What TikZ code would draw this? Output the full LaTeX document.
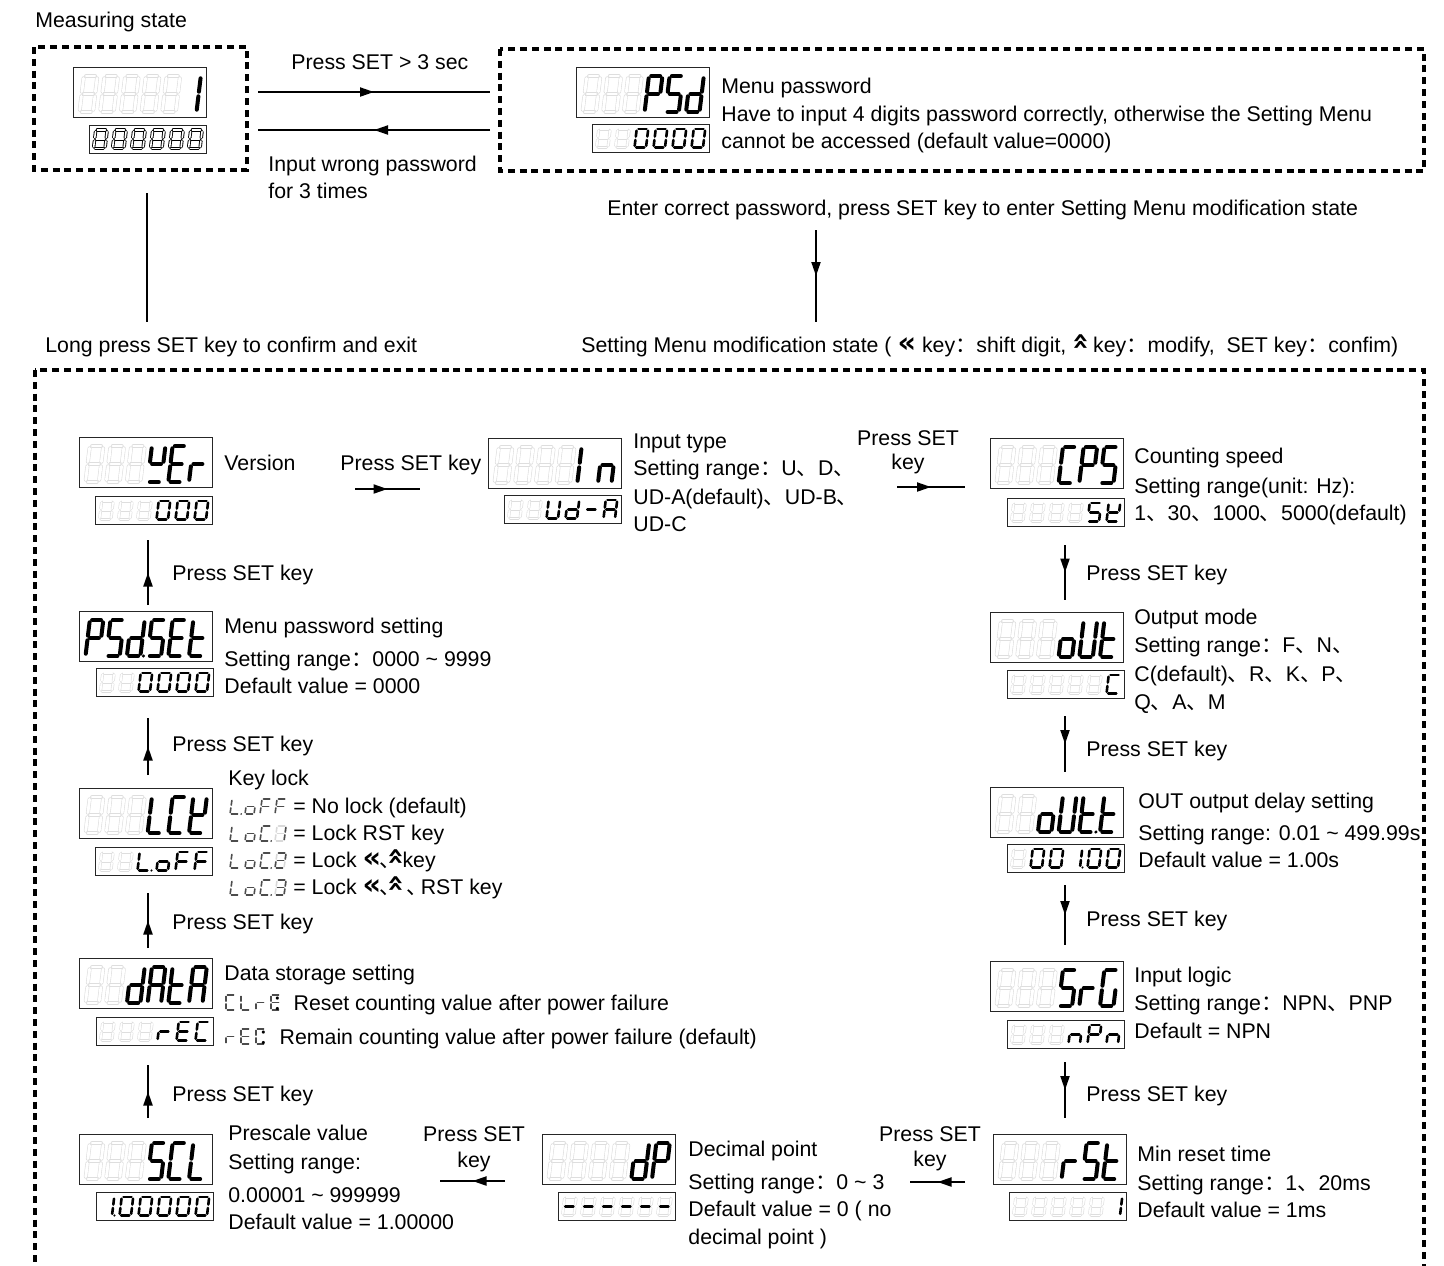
\documentclass[tikz,border=0pt]{standalone}
\usepackage{fontspec}
\usepackage{graphicx}
\setmainfont{Liberation Sans}
\newfontfamily\cjk{Noto Sans CJK SC}
\newfontfamily\dejavu{DejaVu Sans}
\usetikzlibrary{arrows.meta,decorations.markings}

\newcommand\dn{{\cjk 、}}
\newcommand\dns{{\cjk\kern-0.1em 、\kern-0.6em}}
\newcommand\fc{{\cjk ：}}
\newcommand\kl{\scalebox{1.35}{\dejavu\bfseries «}}
\newcommand\ku{\raisebox{0.12em}{\rotatebox[origin=c]{-90}{\scalebox{1.35}{\dejavu\bfseries «}}}}

% seven segment pieces
\newcommand\skA[1]{\draw[#1] (\dG,\dH)--(\dW-\dG,\dH);}
\newcommand\skB[1]{\draw[#1] (\dW,\dH-\dG)--(\dW,\dH/2+\dG);}
\newcommand\skC[1]{\draw[#1] (\dW,\dH/2-\dG)--(\dW,\dG);}
\newcommand\skD[1]{\draw[#1] (\dG,0)--(\dW-\dG,0);}
\newcommand\skE[1]{\draw[#1] (0,\dH/2-\dG)--(0,\dG);}
\newcommand\skF[1]{\draw[#1] (0,\dH-\dG)--(0,\dH/2+\dG);}
\newcommand\skG[1]{\draw[#1] (\dG,\dH/2)--(\dW-\dG,\dH/2);}
\newcommand\skP[1]{\fill[#1] (\dW+\dG+0.8,0) circle[radius=\dR];}
\newcommand\seg[1]{%
  \if#1G\skA{gho}\skB{gho}\skC{gho}\skD{gho}\skE{gho}\skF{gho}\skG{gho}\fi
  \if#1a\skA{act}\fi
  \if#1b\skB{act}\fi
  \if#1c\skC{act}\fi
  \if#1d\skD{act}\fi
  \if#1e\skE{act}\fi
  \if#1f\skF{act}\fi
  \if#1g\skG{act}\fi
  \if#1p\skP{actdot}\fi}

% characters
\def\sgX{G}
\def\sgO{a,b,c,d,e,f}
\def\sgI{b,c}
\def\sgIp{b,c,p}
\def\sgGI{G,b,c}
\def\sgGII{G,a,b,g,e,d}
\def\sgGIII{G,a,b,g,c,d}
\def\sgH{a,b,c,d,e,f,g}
\def\sgP{a,b,f,g,e}
\def\sgS{a,f,g,c,d}
\def\sgd{b,c,d,e,g}
\def\sgdp{b,c,d,e,g,p}
\def\sgE{a,f,g,e,d}
\def\sgr{e,g}
\def\sgC{a,f,e,d}
\def\sgCp{a,f,e,d,p}
\def\sgn{e,g,c}
\def\sgo{c,d,e,g}
\def\sgU{b,c,d,e,f}
\def\sgt{f,g,e,d}
\def\sgtp{f,g,e,d,p}
\def\sgL{f,e,d}
\def\sgLp{f,e,d,p}
\def\sgA{a,b,c,e,f,g}
\def\sgF{a,f,g,e}
\def\sgm{g}
\def\sgGm{G,g}
\def\sgk{b,d,e,f,g}
\def\sgV{f,b,g,d}
\def\sgGG{a,f,e,d,c}
\def\sgi{e,g}
\def\sgIn{e,f}

\newcommand\dispcore[3]{%
  \foreach \dchar [count=\di] in {#3}{%
    \edef\dcc{\dchar}%
    \begin{scope}[shift={({#1+(\di-1)*\dPitch},{#2})},yscale=-1,xslant=-\dSl]
      \foreach \segc in \dcc {\seg{\segc}}
    \end{scope}}}

\newcommand\bigd[4]{%
  \node[bigbox,anchor=north west] (#1) at (#2,#3) {};
  \begin{scope}[act/.style={bigact},gho/.style={bigghost},actdot/.style={fill=black}]
    \def\dW{13.5}\def\dH{36}\def\dG{2.3}\def\dR{1.7}\def\dPitch{20.7}\def\dSl{0.12}%
    \dispcore{#2+6.5}{#3+45}{#4}
  \end{scope}}

\newcommand\smalld[5][smallact]{%
  \node[smallbox,anchor=north west] (#2) at (#3,#4) {};
  \begin{scope}[act/.style={#1},gho/.style={smallghost},actdot/.style={fill=black}]
    \def\dW{11.5}\def\dH{18.5}\def\dG{1.7}\def\dR{1.2}\def\dPitch{19}\def\dSl{0.12}%
    \dispcore{#3+4.5}{#4+23.5}{#5}
  \end{scope}}

\newcommand\icond[4][0.14]{%
  \begin{scope}[act/.style={iconact},gho/.style={iconghost},actdot/.style={fill=black!70}]
    \def\dW{9}\def\dH{15}\def\dG{1.4}\def\dR{1}\def\dPitch{15}\def\dSl{#1}%
    \dispcore{#2}{#3}{#4}
  \end{scope}}

\tikzset{
  txt/.style={anchor=base west,inner sep=0pt},
  txtc/.style={anchor=base,inner sep=0pt},
  bigbox/.style={draw=black!85,line width=0.6pt,minimum width=66.5pt,minimum height=25pt,inner sep=0pt},
  smallbox/.style={draw=black!85,line width=0.6pt,minimum width=58.5pt,minimum height=14pt,inner sep=0pt},
  bigact/.style={draw=black,line width=2pt,line cap=round},
  bigghost/.style={draw=black!13,line width=0.3pt,double=white,double distance=1.4pt,line cap=round},
  smallact/.style={draw=black,line width=1.3pt,line cap=round},
  measact/.style={draw=black,line width=0.45pt,double=white,double distance=0.8pt,line cap=round},
  smallghost/.style={draw=black!13,line width=0.3pt,double=white,double distance=0.9pt,line cap=round},
  iconact/.style={draw=black!70,line width=0.8pt,line cap=round},
  iconghost/.style={draw=black!15,line width=0.8pt,line cap=round},
  dframe/.style={line width=2pt,dash pattern=on 3.5pt off 2.4pt},
  conn/.style={line width=1pt},
  arr/.style={line width=1pt,postaction={decorate},
    decoration={markings,mark=at position 0.5 with {\arrow{Triangle[length=7pt,width=4.5pt]}}}},
}

\begin{document}
\begin{tikzpicture}[x=0.5pt,y=-0.5pt,font=\fontsize{10.65pt}{12.8pt}\selectfont]
\useasboundingbox (0,0) rectangle (1444,1265);
\clip (0,0) rectangle (1444,1265);

% ---------- top part ----------
\node[txt] (tms) at (35,27) {Measuring state};
\draw[dframe] (34,47) rectangle (247,170);
\bigd{m1}{73}{67}{\sgX,\sgX,\sgX,\sgX,\sgX,\sgI}
\smalld[measact]{m2}{89}{125}{\sgH,\sgH,\sgH,\sgH,\sgH,\sgH}

\coordinate (a1s) at (258,92); \coordinate (a1e) at (490,92);
\draw[arr] (a1s) -- (a1e);
\coordinate (a2s) at (490,130); \coordinate (a2e) at (258,130);
\draw[arr] (a2s) -- (a2e);
\node[txt] (tp3) at (291,69) {Press SET > 3 sec};
\node[txt] (tw1) at (268,171) {Input wrong password};
\node[txt] (tw2) at (268,198) {for 3 times};

\draw[dframe] (500,49) rectangle (1424,171);
\bigd{pw1}{576}{67}{\sgX,\sgX,\sgX,\sgP,\sgS,\sgd}
\smalld{pw2}{592}{124}{\sgX,\sgX,\sgO,\sgO,\sgO,\sgO}
\node[txt] (tmp1) at (721,93) {Menu password};
\node[txt] (tmp2) at (721,121) {Have to input 4 digits password correctly, otherwise the Setting Menu};
\node[txt] (tmp3) at (721,148) {cannot be accessed (default value=0000)};

\coordinate (l1s) at (147,193); \coordinate (l1e) at (147,322);
\draw[conn] (l1s) -- (l1e);
\node[txt] (tex) at (45,352) {Long press SET key to confirm and exit};

\node[txt] (tec) at (607,215) {Enter correct password, press SET key to enter Setting Menu modification state};
\coordinate (d1s) at (816,230); \coordinate (d1e) at (816,322);
\draw[arr] (d1s) -- (d1e);
\node[txt] (tsm) at (581,352) {Setting Menu modification state (\ \kl\ key\fc shift digit,\ \ku\ key\fc modify,\ \ SET key\fc confim)};

% ---------- main frame ----------
\draw[dframe] (35,370) rectangle (1424,1300);

% Version
\bigd{ver1}{79}{437}{\sgX,\sgX,\sgX,\sgV,\sgE,\sgr}
\smalld{ver2}{95}{496}{\sgX,\sgX,\sgX,\sgO,\sgO,\sgO}
\node[txt] (tver) at (224,470) {Version};

\node[txt] (tvi) at (340,470) {Press SET key};
\coordinate (h1s) at (355,489); \coordinate (h1e) at (420,489);
\draw[arr] (h1s) -- (h1e);

% Input type
\bigd{in1}{488}{438}{\sgX,\sgX,\sgX,\sgX,\sgIn,\sgn}
\smalld{in2}{504}{495}{\sgX,\sgX,\sgU,\sgd,\sgm,\sgA}
\node[txt] (tin1) at (633,448) {Input type};
\node[txt] (tin2) at (633,475) {Setting range\fc U\dn D\dn};
\node[txt] (tin3) at (633,504) {UD-A(default)\dn UD-B\dn};
\node[txt] (tin4) at (633,531) {UD-C};

\node[txtc] (tic1) at (908,445) {Press SET};
\node[txtc] (tic2) at (908,469) {key};
\coordinate (h2s) at (897,487); \coordinate (h2e) at (965,487);
\draw[arr] (h2s) -- (h2e);

% Counting speed
\bigd{cps1}{990}{438}{\sgX,\sgX,\sgX,\sgC,\sgP,\sgS}
\smalld{cps2}{1007}{498}{\sgX,\sgX,\sgX,\sgX,\sgS,\sgk}
\node[txt] (tcp1) at (1134,463) {Counting speed};
\node[txt] (tcp2) at (1134,493) {Setting range(unit: Hz):};
\node[txt] (tcp3) at (1134,520) {1\dn 30\dn 1000\dn 5000(default)};

% right column arrows
\coordinate (r1s) at (1065,545); \coordinate (r1e) at (1065,600);
\draw[arr] (r1s) -- (r1e);
\node[txt] (tr1) at (1086,580) {Press SET key};

% Output mode
\bigd{out1}{990}{612}{\sgX,\sgX,\sgX,\sgo,\sgU,\sgt}
\smalld{out2}{1007}{670}{\sgX,\sgX,\sgX,\sgX,\sgX,\sgC}
\node[txt] (tou1) at (1134,624) {Output mode};
\node[txt] (tou2) at (1134,652) {Setting range\fc F\dn N\dn};
\node[txt] (tou3) at (1134,681) {C(default)\dn R\dn K\dn P\dn};
\node[txt] (tou4) at (1134,709) {Q\dn A\dn M};

\coordinate (r2s) at (1065,716); \coordinate (r2e) at (1065,772);
\draw[arr] (r2s) -- (r2e);
\node[txt] (tr2) at (1086,756) {Press SET key};

% OUT delay
\bigd{od1}{990}{787}{\sgX,\sgX,\sgo,\sgU,\sgtp,\sgt}
\smalld{od2}{1007}{844}{\sgX,\sgO,\sgO,\sgIp,\sgO,\sgO}
\node[txt] (tod1) at (1138,808) {OUT output delay setting};
\node[txt] (tod2) at (1138,840) {Setting range: 0.01 \textasciitilde\ 499.99s};
\node[txt] (tod3) at (1138,867) {Default value = 1.00s};

\coordinate (r3s) at (1065,885); \coordinate (r3e) at (1065,945);
\draw[arr] (r3s) -- (r3e);
\node[txt] (tr3) at (1086,926) {Press SET key};

% Input logic
\bigd{sig1}{990}{961}{\sgX,\sgX,\sgX,\sgS,\sgi,\sgGG}
\smalld{sig2}{1007}{1020}{\sgX,\sgX,\sgX,\sgn,\sgP,\sgn}
\node[txt] (tsg1) at (1134,982) {Input logic};
\node[txt] (tsg2) at (1134,1010) {Setting range\fc NPN\dn PNP};
\node[txt] (tsg3) at (1134,1038) {Default = NPN};

\coordinate (r4s) at (1065,1062); \coordinate (r4e) at (1065,1118);
\draw[arr] (r4s) -- (r4e);
\node[txt] (tr4) at (1086,1101) {Press SET key};

% Min reset time
\bigd{rst1}{993}{1134}{\sgX,\sgX,\sgX,\sgr,\sgS,\sgt}
\smalld{rst2}{1009}{1192}{\sgX,\sgX,\sgX,\sgX,\sgX,\sgI}
\node[txt] (trs1) at (1137,1161) {Min reset time};
\node[txt] (trs2) at (1137,1190) {Setting range\fc 1\dn 20ms};
\node[txt] (trs3) at (1137,1217) {Default value = 1ms};

\coordinate (b1s) at (965,1182); \coordinate (b1e) at (910,1182);
\draw[arr] (b1s) -- (b1e);
\node[txtc] (tb11) at (930,1141) {Press SET};
\node[txtc] (tb12) at (930,1166) {key};

% Decimal point
\bigd{dp1}{542}{1134}{\sgX,\sgX,\sgX,\sgX,\sgd,\sgP}
\smalld{dp2}{558}{1192}{\sgGm,\sgGm,\sgGm,\sgGm,\sgGm,\sgGm}
\node[txt] (tdp1) at (688,1156) {Decimal point};
\node[txt] (tdp2) at (688,1189) {Setting range\fc 0 \textasciitilde\ 3};
\node[txt] (tdp3) at (688,1216) {Default value = 0 ( no};
\node[txt] (tdp4) at (688,1244) {decimal point )};

\coordinate (b2s) at (505,1181); \coordinate (b2e) at (440,1181);
\draw[arr] (b2s) -- (b2e);
\node[txtc] (tb21) at (474,1141) {Press SET};
\node[txtc] (tb22) at (474,1167) {key};

% Prescale
\bigd{scl1}{79}{1134}{\sgX,\sgX,\sgX,\sgS,\sgC,\sgL}
\smalld{scl2}{96}{1192}{\sgIp,\sgO,\sgO,\sgO,\sgO,\sgO}
\node[txt] (tsc1) at (228,1140) {Prescale value};
\node[txt] (tsc2) at (228,1169) {Setting range:};
\node[txt] (tsc3) at (228,1202) {0.00001 \textasciitilde\ 999999};
\node[txt] (tsc4) at (228,1229) {Default value = 1.00000};

% left column arrows (up)
\coordinate (u4s) at (148,1118); \coordinate (u4e) at (148,1065);
\draw[arr] (u4s) -- (u4e);
\node[txt] (tu4) at (172,1101) {Press SET key};

% Data storage
\bigd{dat1}{79}{958}{\sgX,\sgX,\sgd,\sgA,\sgt,\sgA}
\smalld{dat2}{96}{1017}{\sgX,\sgX,\sgX,\sgr,\sgE,\sgC}
\node[txt] (tda1) at (224,980) {Data storage setting};
\icond[0]{226}{1010}{\sgC,\sgL,\sgr,\sgE}
\node[txt] (tda2) at (272,1010) {\fc Reset counting value after power failure};
\icond[0]{226}{1044}{\sgr,\sgE,\sgC}
\node[txt] (tda3) at (258,1044) {\fc Remain counting value after power failure (default)};

\coordinate (u3s) at (148,948); \coordinate (u3e) at (148,893);
\draw[arr] (u3s) -- (u3e);
\node[txt] (tu3) at (172,929) {Press SET key};

% Key lock
\bigd{lck1}{79}{788}{\sgX,\sgX,\sgX,\sgL,\sgC,\sgk}
\smalld{lck2}{95}{847}{\sgX,\sgX,\sgLp,\sgo,\sgF,\sgF}
\node[txt] (tkl0) at (228,785) {Key lock};
\icond{230}{814}{\sgLp,\sgo,\sgF,\sgF}
\node[txt] (tkl1) at (293,813) {= No lock (default)};
\icond{230}{841}{\sgL,\sgo,\sgCp,\sgGI}
\node[txt] (tkl2) at (293,840) {= Lock RST key};
\icond{230}{868}{\sgL,\sgo,\sgCp,\sgGII}
\node[txt] (tkl3) at (293,867) {= Lock \kl\dns\ku key};
\icond{230}{895}{\sgL,\sgo,\sgCp,\sgGIII}
\node[txt] (tkl4) at (293,894) {= Lock \kl\dns\ku\ \dns\ RST key};

\coordinate (u2s) at (148,775); \coordinate (u2e) at (148,718);
\draw[arr] (u2s) -- (u2e);
\node[txt] (tu2) at (172,751) {Press SET key};

% Menu password setting
\bigd{pss1}{79}{611}{\sgP,\sgS,\sgdp,\sgS,\sgE,\sgt}
\smalld{pss2}{96}{668}{\sgX,\sgX,\sgO,\sgO,\sgO,\sgO}
\node[txt] (tps1) at (224,633) {Menu password setting};
\node[txt] (tps2) at (224,666) {Setting range\fc 0000 \textasciitilde\ 9999};
\node[txt] (tps3) at (224,693) {Default value = 0000};

\coordinate (u1s) at (148,605); \coordinate (u1e) at (148,540);
\draw[arr] (u1s) -- (u1e);
\node[txt] (tu1) at (172,580) {Press SET key};

\end{tikzpicture}
\end{document}
